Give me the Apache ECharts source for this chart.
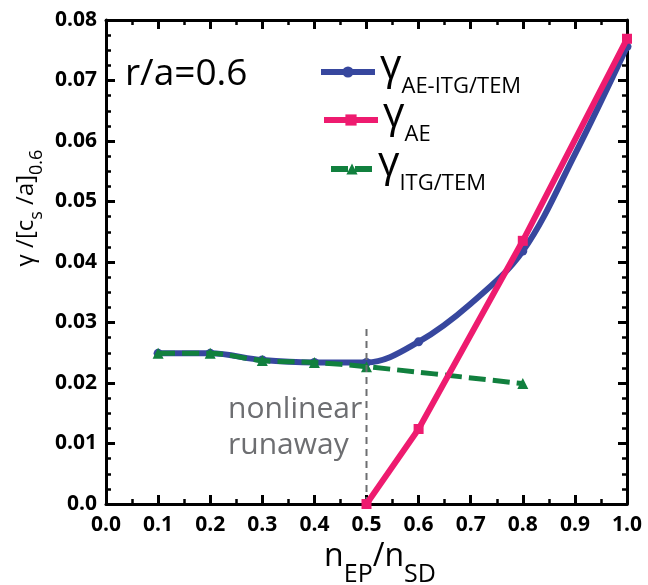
<!DOCTYPE html>
<html>
<head>
<meta charset="utf-8">
<script src="https://cdn.jsdelivr.net/npm/echarts@6/dist/echarts.min.js"></script>
<style>
html,body{margin:0;padding:0;background:#fff;}
#main{width:648px;height:585px;}
</style>
</head>
<body>
<div id="main"></div>
<script>
// ---- data ----
var xTicks = [0.0, 0.1, 0.2, 0.3, 0.4, 0.5, 0.6, 0.7, 0.8, 0.9, 1.0];
var yTicks = [0.0, 0.01, 0.02, 0.03, 0.04, 0.05, 0.06, 0.07, 0.08];

// blue curve: marked points plus two unmarked points (0.7, 0.9)
var xBlue      = [0.1, 0.2, 0.3, 0.4, 0.5, 0.6, 0.7, 0.8, 0.9, 1.0];
var yBlue      = [0.0249, 0.0249, 0.0238, 0.0234, 0.0234, 0.0268, 0.0331, 0.0418, 0.0578, 0.0756];
var blueMarked = [true, true, true, true, true, true, false, true, false, true];

var xPink  = [0.5, 0.6, 0.8, 1.0];
var yPink  = [0.0, 0.0124, 0.0435, 0.0769];

var xGreen = [0.1, 0.2, 0.3, 0.4, 0.5, 0.8];
var yGreen = [0.0249, 0.0249, 0.0237, 0.0234, 0.0227, 0.0199];

var xThreshold = [0.5, 0.5];
var yThreshold = [0.0, 0.0295];

var seriesNames = ['AE-ITG/TEM', 'AE', 'ITG/TEM'];

function pairs(xs, ys) { return xs.map(function (x, i) { return [x, ys[i]]; }); }

var FONT = 'Open Sans';
var BLUE = '#37479e', PINK = '#ee1b6f', GREEN = '#11803e', GRAY = '#6d6e71';

var chart = echarts.init(document.getElementById('main'), null, {renderer: 'canvas'});

function axisCommon(showLabel, pos) {
  return {
    type: 'value',
    position: pos,
    axisLine: {show: true, onZero: false, lineStyle: {color: '#000', width: 3}},
    axisTick: {show: true, inside: true, length: 9, lineStyle: {color: '#000', width: 3}},
    minorTick: {show: true, length: 5, lineStyle: {color: '#000', width: 2.5}},
    splitLine: {show: false},
    axisLabel: {show: showLabel}
  };
}

var xBottom = Object.assign(axisCommon(true, 'bottom'), {
  min: xTicks[0], max: xTicks[xTicks.length - 1], interval: 0.1
});
xBottom.minorTick.splitNumber = 2;
xBottom.axisLabel = {show: true, margin: 11, fontFamily: FONT, fontSize: 21, fontWeight: 'bold', color: '#000',
  formatter: function (v) { return v.toFixed(1); }};
var xTop = Object.assign(axisCommon(false, 'top'), {
  min: xTicks[0], max: xTicks[xTicks.length - 1], interval: 0.1
});
xTop.minorTick.splitNumber = 2;

var yLeft = Object.assign(axisCommon(true, 'left'), {
  min: yTicks[0], max: yTicks[yTicks.length - 1], interval: 0.01
});
yLeft.minorTick.splitNumber = 4;
yLeft.axisLabel = {show: true, margin: 9, fontFamily: FONT, fontSize: 21, fontWeight: 'bold', color: '#000',
  formatter: function (v) { return Math.abs(v) < 1e-9 ? '0.0' : v.toFixed(2); }};
var yRight = Object.assign(axisCommon(false, 'right'), {
  min: yTicks[0], max: yTicks[yTicks.length - 1], interval: 0.01
});
yRight.minorTick.splitNumber = 4;

function legendFor(name, left, top, w) {
  return {
    data: [name], left: left, top: top, padding: 0, itemWidth: w, itemHeight: 14,
    selectedMode: false,
    lineStyle: {width: 6},
    formatter: function (n) { return '{g|γ}{s|' + n + '}'; },
    textStyle: {
      rich: {
        g: {fontFamily: FONT, fontSize: 42, color: '#000', verticalAlign: 'top', lineHeight: 52},
        s: {fontFamily: FONT, fontSize: 22, fontWeight: 500, color: '#000', verticalAlign: 'bottom', lineHeight: 10}
      }
    }
  };
}

var blueData = xBlue.map(function (x, i) {
  return blueMarked[i] ? {value: [x, yBlue[i]]} : {value: [x, yBlue[i]], symbol: 'none'};
});

var option = {
  animation: false,
  backgroundColor: '#fff',
  grid: {left: 106, right: 21, top: 20, bottom: 81},
  xAxis: [xBottom, xTop],
  yAxis: [yLeft, yRight],
  legend: [
    legendFor(seriesNames[0], 318, 46, 54),
    legendFor(seriesNames[1], 321, 94, 54),
    legendFor(seriesNames[2], 328, 143, 42)
  ],
  series: [
    {
      name: seriesNames[0], type: 'line', data: blueData, smooth: 0.35,
      symbol: 'circle', symbolSize: 9,
      lineStyle: {color: BLUE, width: 6}, itemStyle: {color: BLUE}, z: 2
    },
    {
      name: seriesNames[2], type: 'line', data: pairs(xGreen, yGreen), smooth: 0.3,
      symbol: 'triangle', symbolSize: 11,
      lineStyle: {color: GREEN, width: 5, type: [17, 7]}, itemStyle: {color: GREEN}, z: 3
    },
    {
      name: 'threshold', type: 'line', data: pairs(xThreshold, yThreshold),
      symbol: 'none', silent: true,
      lineStyle: {color: GRAY, width: 2, type: [7, 5]}, z: 4
    },
    {
      name: seriesNames[1], type: 'line', data: pairs(xPink, yPink),
      symbol: 'rect', symbolSize: 10,
      lineStyle: {color: PINK, width: 6}, itemStyle: {color: PINK}, z: 5
    }
  ],
  graphic: [
    {type: 'text', left: 125, top: 56, style: {text: 'r/a=0.6', fontFamily: FONT, fontSize: 37, fontWeight: 500, fill: '#000'}},
    {type: 'text', left: 228, top: 394, style: {text: 'nonlinear', fontFamily: FONT, fontSize: 30, fill: GRAY}},
    {type: 'text', left: 228, top: 430, style: {text: 'runaway', fontFamily: FONT, fontSize: 30, fill: GRAY}},
    {
      type: 'text', x: 30, y: 208, rotation: Math.PI / 2,
      style: {
        text: '{m|γ /[c}{s|s}{m| /a]}{s|0.6}', align: 'center', verticalAlign: 'middle',
        rich: {
          m: {fontFamily: FONT, fontSize: 24, fontWeight: 500, fill: '#000', verticalAlign: 'top', lineHeight: 32},
          s: {fontFamily: FONT, fontSize: 18, fontWeight: 500, fill: '#000', verticalAlign: 'bottom', lineHeight: 8}
        }
      }
    },
    {
      type: 'text', x: 380, y: 564,
      style: {
        text: '{m|n}{s|EP}{m|/n}{s|SD}', align: 'center', verticalAlign: 'middle',
        rich: {
          m: {fontFamily: FONT, fontSize: 32, fill: '#000', verticalAlign: 'top', lineHeight: 46},
          s: {fontFamily: FONT, fontSize: 25, fill: '#000', verticalAlign: 'bottom', lineHeight: 10}
        }
      }
    }
  ]
};
chart.setOption(option);
</script>
</body>
</html>
